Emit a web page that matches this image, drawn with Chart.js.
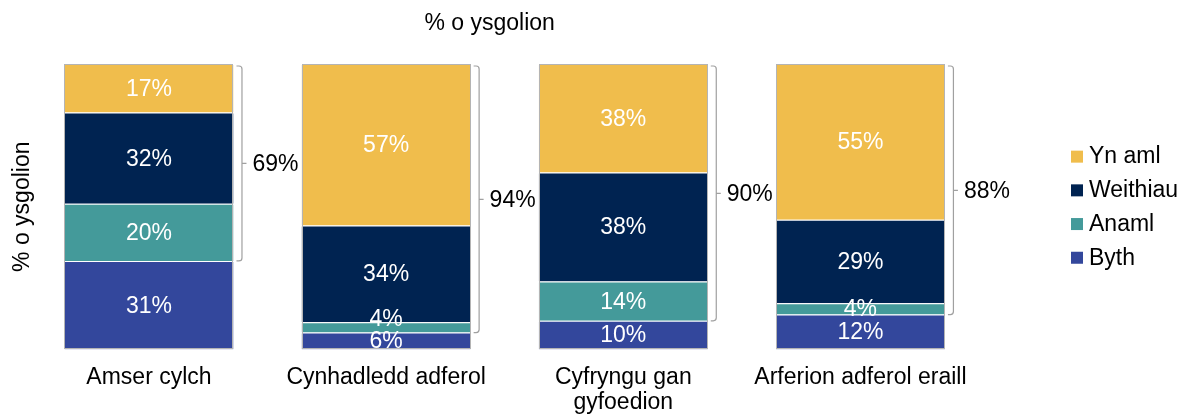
<!DOCTYPE html>
<html><head><meta charset="utf-8">
<script src="https://cdn.jsdelivr.net/npm/chart.js@4"></script>
<style>html,body{margin:0;padding:0;background:#fff;} canvas{display:block}</style>
</head><body>
<canvas id="c" width="1184" height="416"></canvas>
<script>
const categories = ['Amser cylch', 'Cynhadledd adferol', ['Cyfryngu gan', 'gyfoedion'], 'Arferion adferol eraill'];
const seriesNames = ['Byth', 'Anaml', 'Weithiau', 'Yn aml'];
const byth     = [31.0,  5.9, 10.0, 12.2];
const anaml    = [20.0,  3.6, 13.8,  4.0];
const weithiau = [32.0, 33.9, 38.2, 29.2];
const ynAml    = [17.0, 56.6, 38.0, 54.6];
const colors = ['#33479C', '#449A9A', '#002351', '#F0BD4C'];
const titleText = '% o ysgolion';
const yTitleText = '% o ysgolion';
const FONT = '"Liberation Sans", Arial, Helvetica, sans-serif';
const FS = 23;

const seriesValues = [byth, anaml, weithiau, ynAml];

const overlay = {
  id: 'overlay',
  afterDatasetsDraw(chart) {
    const ctx = chart.ctx;
    const ys = chart.scales.y;
    const nD = chart.data.datasets.length;
    ctx.save();
    ctx.font = FS + 'px ' + FONT;
    for (let i = 0; i < categories.length; i++) {
      const bars = [];
      for (let k = 0; k < nD; k++) bars.push(chart.getDatasetMeta(k).data[i]);
      const left = bars[0].x - bars[0].width / 2;
      const right = bars[0].x + bars[0].width / 2;
      let total = 0;
      seriesValues.forEach(s => total += s[i]);
      const top = ys.getPixelForValue(total);
      const bottom = ys.getPixelForValue(0);
      // outline
      ctx.strokeStyle = '#b4b4b4';
      ctx.lineWidth = 1;
      ctx.strokeRect(Math.round(left) + 0.5, Math.round(top) + 0.5, Math.round(right - left) - 1, Math.round(bottom - top) - 1);
      // segment labels
      ctx.fillStyle = '#ffffff';
      ctx.textAlign = 'center';
      ctx.textBaseline = 'middle';
      let prev = Infinity;
      for (let k = 0; k < nD; k++) {
        const b = bars[k];
        let cy = (b.y + b.base) / 2;
        if (prev - cy < 22) cy = prev - 22;
        ctx.fillText(Math.round(seriesValues[k][i]) + '%', b.x, cy + 1);
        prev = cy;
      }
      // bracket over Anaml + Weithiau + Yn aml
      const bracketVal = anaml[i] + weithiau[i] + ynAml[i];
      const bTop = top + 2;
      const bBot = ys.getPixelForValue(byth[i]);
      const x0 = right + 3, x1 = right + 8.5, xm = right + 13;
      const r = 3, mid = (bTop + bBot) / 2;
      ctx.strokeStyle = '#a0a0a0';
      ctx.lineWidth = 1.2;
      ctx.beginPath();
      ctx.moveTo(x0, bTop);
      ctx.lineTo(x1 - r, bTop);
      ctx.quadraticCurveTo(x1, bTop, x1, bTop + r);
      ctx.lineTo(x1, bBot - r);
      ctx.quadraticCurveTo(x1, bBot, x1 - r, bBot);
      ctx.lineTo(x0, bBot);
      ctx.moveTo(x1, mid);
      ctx.lineTo(xm, mid);
      ctx.stroke();
      ctx.fillStyle = '#000';
      ctx.textAlign = 'left';
      ctx.fillText(Math.round(bracketVal) + '%', right + 19, mid + 1);
    }
    ctx.restore();
  },
  afterDraw(chart) {
    const ctx = chart.ctx;
    const area = chart.chartArea;
    ctx.save();
    ctx.font = FS + 'px ' + FONT;
    // title
    ctx.fillStyle = '#000';
    ctx.textAlign = 'center';
    ctx.textBaseline = 'alphabetic';
    ctx.fillText(titleText, (area.left + area.right) / 2 - 15, 30);
    // legend (reverse order)
    const midY = (area.top + area.bottom) / 2;
    const n = seriesNames.length;
    ctx.textAlign = 'left';
    ctx.textBaseline = 'middle';
    for (let j = 0; j < n; j++) {
      const k = n - 1 - j;
      const cy = midY + (j - (n - 1) / 2) * 33.7;
      ctx.fillStyle = colors[k];
      ctx.fillRect(1071, cy - 5.5, 12, 12);
      ctx.fillStyle = '#000';
      ctx.fillText(seriesNames[k], 1089, cy + 1);
    }
    ctx.restore();
  }
};

new Chart(document.getElementById('c'), {
  type: 'bar',
  data: {
    labels: categories,
    datasets: seriesNames.map((name, k) => ({
      label: name,
      data: seriesValues[k],
      backgroundColor: colors[k],
      borderColor: '#ffffff',
      borderWidth: {top: 1, left: 0, right: 0, bottom: 0},
      borderSkipped: false,
      categoryPercentage: 1,
      barPercentage: 0.7126
    }))
  },
  options: {
    responsive: false,
    animation: false,
    layout: {padding: {top: 64, right: 205, bottom: 0, left: 0}},
    plugins: {
      legend: {display: false},
      title: {display: false},
      tooltip: {enabled: false}
    },
    scales: {
      x: {
        stacked: true,
        grid: {display: false, drawTicks: false},
        border: {display: false},
        ticks: {
          color: '#000',
          font: {family: FONT, size: FS, lineHeight: 1.087},
          padding: 16,
          maxRotation: 0,
          minRotation: 0,
          autoSkip: false
        },
        afterFit(scale) { scale.height = 66.6; }
      },
      y: {
        stacked: true,
        min: 0,
        max: 100,
        grid: {display: false, drawTicks: false},
        border: {display: false},
        ticks: {display: false},
        title: {
          display: true,
          text: yTitleText,
          color: '#000',
          font: {family: FONT, size: FS, lineHeight: 1.2},
          padding: {top: 8.7, bottom: 0}
        },
        afterFit(scale) { scale.width = 30.4; }
      }
    }
  },
  plugins: [overlay]
});
</script>
</body></html>
